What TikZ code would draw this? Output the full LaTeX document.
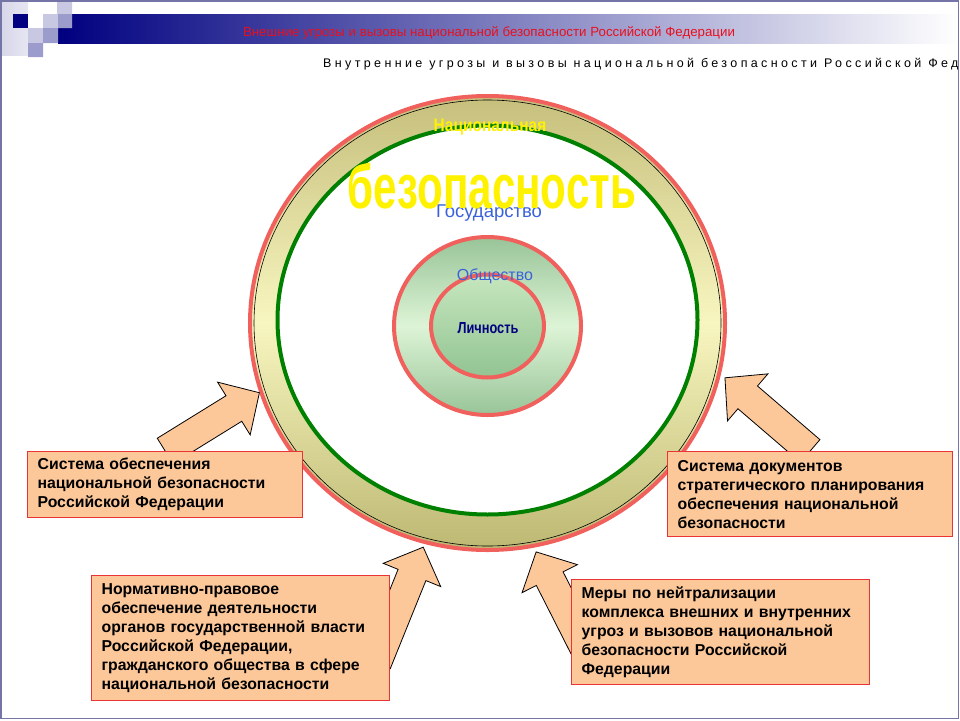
\documentclass[tikz,border=0pt]{standalone}
\usepackage{fontspec}
\setmainfont{Liberation Sans}
\usepackage{graphicx}
\usepackage{tikz}
\usetikzlibrary{positioning,shapes,calc}
\pgfdeclarelayer{front}
\pgfsetlayers{main,front}
\definecolor{navyHead}{HTML}{000080}
\definecolor{frameLine}{HTML}{7474A6}
\definecolor{lightSq}{HTML}{C8C8E2}
\definecolor{midSq}{HTML}{9C9CCC}
\definecolor{paleSq}{HTML}{E6E6F2}
\definecolor{titleRed}{HTML}{E8101E}
\definecolor{ringTop}{HTML}{C6BF7C}
\definecolor{ringMid}{HTML}{F8F6C0}
\definecolor{ringBot}{HTML}{BDB872}
\definecolor{ringRed}{HTML}{F0605C}
\definecolor{stateGreen}{HTML}{008000}
\definecolor{labelBlue}{HTML}{3A62DA}
\definecolor{socTop}{HTML}{98C498}
\definecolor{socMid}{HTML}{DDF4D6}
\definecolor{perTop}{HTML}{C6E6BE}
\definecolor{perBot}{HTML}{92C492}
\definecolor{peach}{HTML}{FCC89A}
\definecolor{boxRed}{HTML}{E83434}
\tikzstyle{disc}=[ellipse, draw=ringRed, line width=4pt]
\tikzstyle{label}=[anchor=base, inner sep=0pt]
\tikzstyle{infobox}=[draw=boxRed, line width=1.3pt, fill=peach, anchor=north west, align=left, inner xsep=10pt, inner ysep=0pt, font=\fontsize{15.8}{19}\selectfont\bfseries]
\tikzstyle{fat}=[draw, line width=0.8pt, fill=peach, line join=miter]
\newcommand{\fatarrow}[2]{%
	\path ($(#2)!30pt!(#1)$) coordinate (hb);
	\draw[fat] ($(#1)!15pt!90:(#2)$) -- ($(hb)!15pt!90:(#2)$) -- ($(hb)!31pt!90:(#2)$) -- (#2) -- ($(hb)!31pt!-90:(#2)$) -- ($(hb)!15pt!-90:(#2)$) -- ($(#1)!15pt!-90:(#2)$) -- cycle;}

\begin{document}
\begin{tikzpicture}[x=1pt, y=-1pt]
	\useasboundingbox (0,0) rectangle (960,720);
	\shade[left color=navyHead, middle color=navyHead!55!white, right color=white] (58,14) rectangle (958,43);
	\shade[left color=paleSq!80!midSq, right color=paleSq] (2,2) rectangle (28,55);
	\fill[navyHead] (13,14) rectangle (28,28);
	\fill[white] (28,14) rectangle (43,28);
	\fill[lightSq] (43,14) rectangle (58,28) (57,2) rectangle (72,14) (28,28) rectangle (43,43);
	\fill[midSq] (58,14) rectangle (72,28) (43,28) rectangle (58,43) (28,43) rectangle (43,57);
	\draw[frameLine, line width=1.5pt] (1,1) rectangle (958.5,718.5);
	\node[text=titleRed, font=\fontsize{13.3}{15}\selectfont] (outerThreats) at (489,33) {Внешние угрозы и вызовы национальной безопасности Российской Федерации};
	\begin{scope}
		\clip (0,0) rectangle (957,720);
		\node[anchor=base west, inner sep=0pt, font=\fontsize{12.5}{14}\selectfont\addfontfeature{LetterSpace=27}] (innerThreats) at (323,67) {Внутренние угрозы и вызовы национальной безопасности Российской Федерации};
	\end{scope}
	\node[disc, minimum width=475pt, minimum height=454pt, top color=ringTop, bottom color=ringBot, middle color=ringMid] (ring) at (487.5,323) {};
	\node[ellipse, draw, line width=0.6pt, minimum width=467pt, minimum height=446pt] (rim) at (ring.center) {};
	\node[ellipse, draw=stateGreen, line width=4pt, fill=white, minimum width=420pt, minimum height=389pt] (state) at (487.5,320) {};
	\node[label, text=labelBlue, font=\fontsize{18.5}{20}\selectfont] (gos) at (489,217) {Государство};
	\node[disc, minimum width=187pt, minimum height=178pt, top color=socTop, bottom color=socTop, middle color=socMid] (society) at (487.5,326) {};
	\node[disc, minimum width=113pt, minimum height=103pt, top color=perTop, bottom color=perBot] (person) at (society.center) {};
	\node[label, text=labelBlue, font=\fontsize{16}{18}\selectfont] (obsh) at (495,280) {Общество};
	\node[label, text=navyHead, font=\fontsize{16}{18}\selectfont\bfseries] (lich) at (488,333) {\scalebox{0.8}[1]{Личность}};
	\node[label, text=yellow, font=\fontsize{18}{18}\selectfont\bfseries] (nat) at (490,131) {\scalebox{0.86}[1]{Национальная}};
	\node[label, text=yellow, font=\fontsize{62}{64}\selectfont\bfseries] (bez) at (492,208) {\scalebox{0.68}[1]{безопасность}};
	\begin{pgfonlayer}{front}
		\node[infobox, text width=255pt, minimum height=66pt] (boxSystem) at (27,451) {Система обеспечения\\национальной безопасности\\Российской Федерации};
		\node[infobox, text width=265pt, minimum height=85pt] (boxDocs) at (667,451) {Система документов\\стратегического планирования\\обеспечения национальной\\безопасности};
		\node[infobox, text width=278pt, minimum height=125pt] (boxLaw) at (91,575) {Нормативно-правовое\\обеспечение деятельности\\органов государственной власти\\Российской Федерации,\\гражданского общества в сфере\\национальной безопасности};
		\node[infobox, text width=278pt, minimum height=105pt] (boxMeasures) at (571,579) {Меры по нейтрализации\\комплекса внешних и внутренних\\угроз и вызовов национальной\\безопасности Российской\\Федерации};
	\end{pgfonlayer}
	\coordinate (tipSystem) at (ring.197);
	\coordinate (tipDocs) at ($(ring.center)!1.02!(ring.347)$);
	\coordinate (tipLaw) at ($(ring.center)!1.015!(ring.254)$);
	\coordinate (tipMeasures) at ($(ring.center)!1.02!(ring.282)$);
	\fatarrow{boxSystem.north}{tipSystem}
	\fatarrow{boxDocs.north}{tipDocs}
	\fatarrow{[xshift=-14pt,yshift=-25pt]boxLaw.east}{tipLaw}
	\fatarrow{[xshift=17pt,yshift=-22pt]boxMeasures.west}{tipMeasures}
\end{tikzpicture}
\end{document}
